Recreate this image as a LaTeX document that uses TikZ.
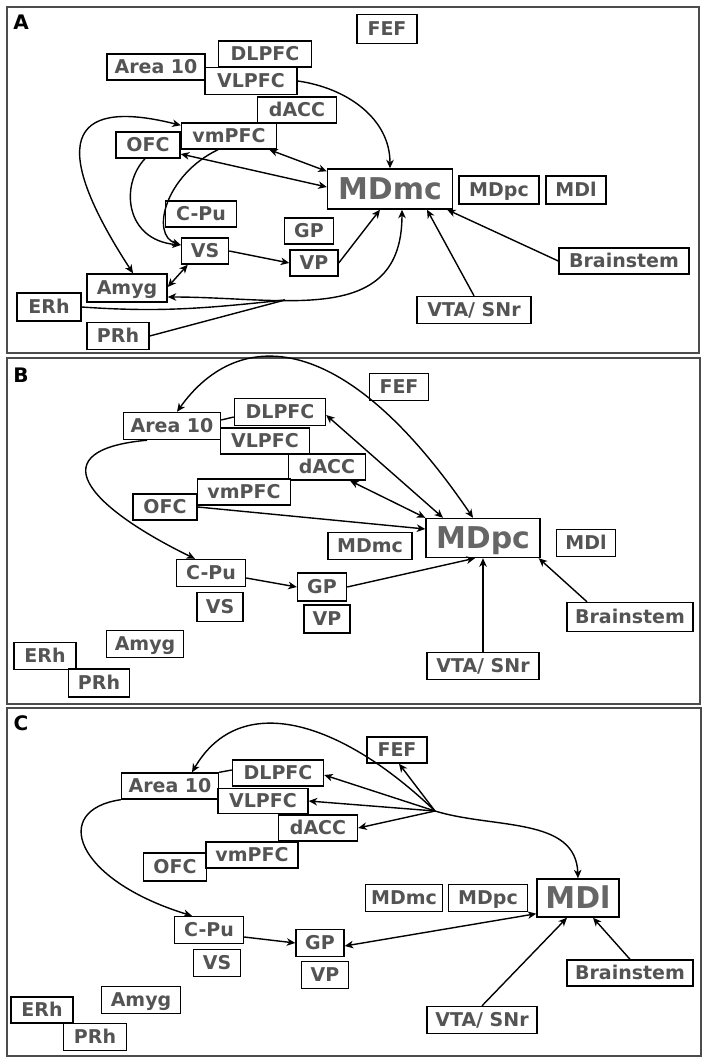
\documentclass[tikz,border=0pt]{standalone}
\usepackage{fontspec}
\setmainfont{DejaVu Sans}
\usetikzlibrary{arrows.meta,calc}
\definecolor{lbl}{gray}{0.33}
\definecolor{biglbl}{gray}{0.40}
\definecolor{frm}{gray}{0.3}
\tikzset{
 box/.style={draw=black,line width=1.4pt,fill=white,inner sep=0pt,text=lbl,
   font=\fontsize{19}{19}\selectfont\bfseries,text height=13.8pt,text depth=0pt,minimum height=26pt},
 big/.style={box,font=\fontsize{30}{30}\selectfont\bfseries,text=biglbl,text height=21.8pt},
 panel/.style={draw=frm,line width=1.4pt},
 plab/.style={font=\fontsize{20}{20}\selectfont\bfseries,text=black,inner sep=0pt},
 con/.style={line width=1.4pt,-{Stealth[length=8.5pt,width=7.5pt,inset=2.5pt]}},
 bicon/.style={line width=1.4pt,{Stealth[length=8.5pt,width=7.5pt,inset=2.5pt]}-{Stealth[length=8.5pt,width=7.5pt,inset=2.5pt]}},
 plain/.style={line width=1.4pt},
}
\begin{document}
\begin{tikzpicture}[x=1pt,y=-1pt]
\useasboundingbox (0,0) rectangle (708,1064);
\fill[white] (0,0) rectangle (708,1064);
% frames
\draw[panel] (7,7) rectangle (699,353);
\draw[panel] (7,358) rectangle (700,704);
\draw[panel] (7,708) rectangle (701,1056);
\node[plab] (labA) at (21,22) {A};
\node[plab] (labB) at (21,375) {B};
\node[plab] (labC) at (21,723) {C};

% ================= Panel A =================
\node[box,minimum width=60pt,minimum height=29pt] (aFEF) at (387,29) {FEF};
\node[box,minimum width=93pt] (aDLPFC) at (265,54) {DLPFC};
\node[box,minimum width=98pt] (aA10) at (156,67) {Area 10};
\node[box,minimum width=92pt,minimum height=27pt] (aVLPFC) at (251,81) {VLPFC};
\node[box,minimum width=79pt] (adACC) at (297,110) {dACC};
\node[box,minimum width=64pt] (aOFC) at (148,145) {OFC};
\node[box,minimum width=95pt] (avmPFC) at (229,136) {vmPFC};
\node[big,minimum width=125pt,minimum height=40pt] (aMDmc) at (390,189) {MDmc};
\node[box,minimum width=80pt,minimum height=28pt] (aMDpc) at (499,190) {MDpc};
\node[box,minimum width=60pt,minimum height=28pt] (aMDl) at (576,190) {MDl};
\node[box,minimum width=71pt] (aCPu) at (201,214) {C-Pu};
\node[box,minimum width=49pt] (aGP) at (309,231) {GP};
\node[box,minimum width=47pt] (aVS) at (205,251) {VS};
\node[box,minimum width=48pt] (aVP) at (314,263) {VP};
\node[box,minimum width=130pt] (aBS) at (624,261) {Brainstem};
\node[box,minimum width=80pt,minimum height=28pt] (aAmyg) at (127,288) {Amyg};
\node[box,minimum width=64pt,minimum height=28pt] (aERh) at (49,307) {ERh};
\node[box,minimum width=114pt,minimum height=27pt] (aVTA) at (474,310) {VTA/ SNr};
\node[box,minimum width=62pt,minimum height=27pt] (aPRh) at (118,336) {PRh};

\draw[con] (aVLPFC.east) to[out=-8,in=90] (aMDmc.north);
\draw[bicon] ([yshift=-9pt]aOFC.east) -- ([yshift=2pt]aMDmc.west);
\draw[bicon] ([xshift=-8pt]avmPFC.south east) -- ([yshift=-3pt]aMDmc.north west);
\draw[bicon] ([xshift=6pt]aAmyg.north) .. controls (40,130) and (80,100) .. ([yshift=-3pt]avmPFC.north west);
\draw[con] ([xshift=-3pt]aOFC.south) .. controls (120,185) and (125,240) .. ([yshift=6pt]aVS.west);
\draw[con] ([xshift=-11pt]avmPFC.south) .. controls (165,175) and (150,235) .. ([yshift=6pt]aVS.west);
\draw[bicon] ([yshift=1pt]aAmyg.east) -- ([xshift=7pt]aVS.south west);
\draw[con] (aVS.east) -- (aVP.west);
\draw[con] (aVP.east) -- ([xshift=-10pt]aMDmc.south);
\draw[bicon] ([yshift=-9pt]aAmyg.east) to[out=0,in=270,looseness=1.2] ([xshift=12pt]aMDmc.south);
\coordinate (aJ) at (285,300);
\draw[plain] (aERh.east) to[out=-4,in=186] (aJ);
\draw[plain] (aPRh.east) -- (aJ);
\draw[con] (aVTA.north) -- ([xshift=37pt]aMDmc.south);
\draw[con] (aBS.west) -- ([xshift=-6pt]aMDmc.south east);

% ================= Panel B =================
\node[box,minimum width=59pt,minimum height=27pt] (bFEF) at (399,387) {FEF};
\node[box,minimum width=91pt,minimum height=27pt] (bDLPFC) at (280,412) {DLPFC};
\node[box,minimum width=97pt,minimum height=27pt] (bA10) at (172,426) {Area 10};
\node[box,minimum width=89pt] (bVLPFC) at (265,441) {VLPFC};
\node[box,minimum width=77pt] (bdACC) at (327,467) {dACC};
\node[box,minimum width=64pt] (bOFC) at (165,507) {OFC};
\node[box,minimum width=93pt] (bvmPFC) at (244,492) {vmPFC};
\node[big,minimum width=114pt,minimum height=39pt] (bMDpc) at (483,538) {MDpc};
\node[box,minimum width=84pt,minimum height=27pt] (bMDmc) at (370,546) {MDmc};
\node[box,minimum width=59pt,minimum height=27pt] (bMDl) at (586,543) {MDl};
\node[box,minimum width=69pt,minimum height=27pt] (bCPu) at (211,573) {C-Pu};
\node[box,minimum width=49pt,minimum height=28pt] (bGP) at (322,587) {GP};
\node[box,minimum width=46pt,minimum height=29pt] (bVS) at (220,607) {VS};
\node[box,minimum width=46pt,minimum height=28pt] (bVP) at (327,619) {VP};
\node[box,minimum width=126pt,minimum height=29pt] (bBS) at (630,617) {Brainstem};
\node[box,minimum width=77pt,minimum height=27pt] (bAmyg) at (145,644) {Amyg};
\node[box,minimum width=62pt,minimum height=27pt] (bERh) at (45,656) {ERh};
\node[box,minimum width=112pt,minimum height=27pt] (bVTA) at (483,666) {VTA/ SNr};
\node[box,minimum width=61pt,minimum height=28pt] (bPRh) at (99,683) {PRh};

\draw[plain] ([yshift=6pt]bA10.east) -- ([yshift=-5pt]bDLPFC.west);
\draw[bicon] ([xshift=5pt]bA10.north) .. controls (235,330) and (340,322) .. ([xshift=-10pt]bMDpc.north);
\draw[bicon] ([yshift=-3pt]bDLPFC.east) -- ([xshift=-40pt]bMDpc.north);
\draw[bicon] ([xshift=23pt]bdACC.south) -- (bMDpc.north west);
\draw[con] (bOFC.east) -- ([yshift=9pt]bMDpc.west);
\draw[con] ([xshift=-25pt]bA10.south) .. controls (40,450) and (85,505) .. ([xshift=-16pt]bCPu.north);
\draw[con] ([yshift=-5pt]bCPu.east) -- (bGP.west);
\draw[con] (bGP.east) -- ([xshift=-8pt]bMDpc.south);
\draw[con] (bVTA.north) -- (bMDpc.south);
\draw[con] ([xshift=-43pt]bBS.north) -- ([xshift=-2pt]bMDpc.south east);

% ================= Panel C =================
\node[box,minimum width=60pt] (cFEF) at (397,750) {FEF};
\node[box,minimum width=91pt] (cDLPFC) at (278,773) {DLPFC};
\node[box,minimum width=97pt] (cA10) at (170,786) {Area 10};
\node[box,minimum width=90pt,minimum height=25pt] (cVLPFC) at (263,801) {VLPFC};
\node[box,minimum width=79pt] (cdACC) at (318,828) {dACC};
\node[box,minimum width=63pt,minimum height=28pt] (cOFC) at (175,867) {OFC};
\node[box,minimum width=92pt] (cvmPFC) at (252,855) {vmPFC};
\node[big,minimum width=82pt,minimum height=38pt] (cMDl) at (578,898) {MDl};
\node[box,minimum width=77pt,minimum height=27pt] (cMDmc) at (404,898) {MDmc};
\node[box,minimum width=79pt,minimum height=27pt] (cMDpc) at (488,898) {MDpc};
\node[box,minimum width=69pt,minimum height=27pt] (cCPu) at (209,930) {C-Pu};
\node[box,minimum width=48pt,minimum height=27pt] (cGP) at (320,943) {GP};
\node[box,minimum width=47pt,minimum height=27pt] (cVS) at (217,963) {VS};
\node[box,minimum width=47pt,minimum height=27pt] (cVP) at (325,975) {VP};
\node[box,minimum width=126pt] (cBS) at (630,973) {Brainstem};
\node[box,minimum width=79pt,minimum height=27pt] (cAmyg) at (141,1000) {Amyg};
\node[box,minimum width=62pt] (cERh) at (42,1010) {ERh};
\node[box,minimum width=110pt,minimum height=27pt] (cVTA) at (482,1020) {VTA/ SNr};
\node[box,minimum width=63pt,minimum height=27pt] (cPRh) at (95,1037) {PRh};

\coordinate (cHub) at (435,811);
\draw[plain] (cA10.north east) -- ([yshift=3pt]cDLPFC.west);
\draw[con] (cHub) -- ([xshift=2pt]cFEF.south);
\draw[con] (cHub) -- ([yshift=-2pt]cDLPFC.east);
\draw[con] (cHub) -- (cVLPFC.east);
\draw[con] (cHub) -- (cdACC.east);
\draw[con] (cHub) .. controls (340,720) and (240,690) .. ([xshift=22pt]cA10.north);
\draw[con] (cHub) to[out=-17,in=92] (cMDl.north);
\draw[con] (cA10.south west) .. controls (50,810) and (75,880) .. ([xshift=-17pt]cCPu.north);
\draw[con] ([yshift=-7pt]cCPu.east) -- (cGP.west);
\draw[bicon] ([yshift=4pt]cMDl.south west) -- ([yshift=-3pt]cGP.east);
\draw[con] (cVTA.north) -- ([xshift=-11pt]cMDl.south);
\draw[con] (cBS.north) -- ([xshift=15pt]cMDl.south);
\end{tikzpicture}
\end{document}
